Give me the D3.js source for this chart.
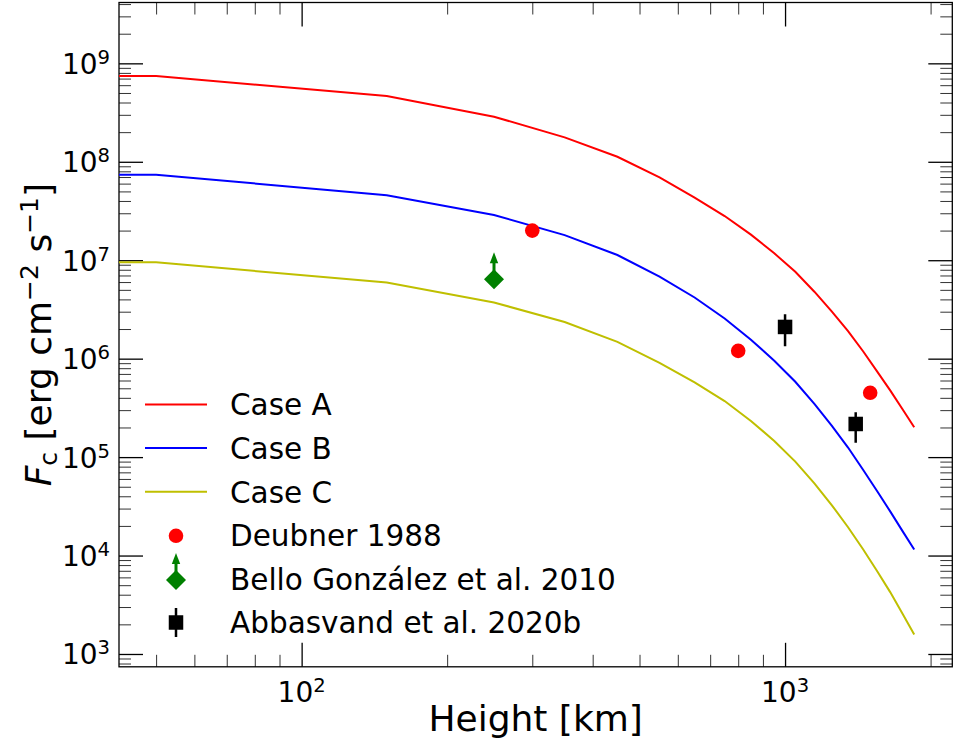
<!DOCTYPE html>
<html>
<head>
<meta charset="utf-8">
<script src="https://cdn.jsdelivr.net/npm/d3@7"></script>
<style>
  html, body { margin: 0; padding: 0; background: #fff; }
  svg { display: block; font-family: "DejaVu Sans", sans-serif; }
</style>
</head>
<body>
<svg id="chart" width="956" height="744"></svg>
<script>
// ---------------- data ----------------
const heights = [40, 50, 150, 250, 350, 450, 550, 650, 750, 850, 950, 1050, 1150, 1250, 1350, 1450, 1550, 1650, 1750, 1850];
const caseA = [7.43e8, 7.43e8, 4.66e8, 2.87e8, 1.77e8, 1.125e8, 6.95e7, 4.33e7, 2.81e7, 1.82e7, 1.175e7, 7.62e6, 4.79e6, 3.01e6, 1.90e6, 1.19e6, 7.44e5, 4.76e5, 3.06e5, 2.01e5];
const caseB = [7.39e7, 7.39e7, 4.58e7, 2.88e7, 1.80e7, 1.13e7, 6.8e6, 4.18e6, 2.56e6, 1.56e6, 9.54e5, 5.83e5, 3.47e5, 2.08e5, 1.25e5, 7.43e4, 4.52e4, 2.81e4, 1.77e4, 1.15e4];
const caseC = [9.52e6, 9.52e6, 5.94e6, 3.72e6, 2.36e6, 1.48e6, 9.08e5, 5.73e5, 3.71e5, 2.33e5, 1.46e5, 9.0e4, 5.41e4, 3.24e4, 1.94e4, 1.16e4, 6.97e3, 4.25e3, 2.57e3, 1.58e3];

const deubnerH = [300, 800, 1500];
const deubnerF = [2.0e7, 1.2e6, 4.5e5];
const belloH = [250];
const belloF = [6.4e6];
const abbasH = [1000, 1400];
const abbasF = [2.1e6, 2.17e5];
const abbasLo = [1.34e6, 1.4e5];
const abbasHi = [2.82e6, 2.85e5];

const caseNames = ["Case A", "Case B", "Case C"];
const caseColors = ["#ff0000", "#0000ff", "#bfbf00"];
const obsNames = ["Deubner 1988", "Bello González et al. 2010", "Abbasvand et al. 2020b"];

const xTickVals = [100, 1000];
const xTickExp = ["2", "3"];
const yTickVals = [1e3, 1e4, 1e5, 1e6, 1e7, 1e8, 1e9];
const yTickExp = ["3", "4", "5", "6", "7", "8", "9"];
const xDomain = [41.9, 2218];
const yDomain = [741, 4.15e9];

// ---------------- layout ----------------
const L = 119, R = 952.3, T = 2.5, B = 666.8;
const svg = d3.select("#chart");
const x = d3.scaleLog().domain(xDomain).range([L, R]);
const y = d3.scaleLog().domain(yDomain).range([B, T]);

svg.append("defs").append("clipPath").attr("id", "clip")
  .append("rect").attr("x", L).attr("y", T).attr("width", R - L).attr("height", B - T);

function minors(lo, hi) {
  const out = [];
  for (let e = Math.floor(Math.log10(lo)); e <= Math.ceil(Math.log10(hi)); e++) {
    for (let m = 2; m <= 9; m++) {
      const v = m * Math.pow(10, e);
      if (v >= lo && v <= hi) out.push(v);
    }
  }
  return out;
}
const xMinor = minors(xDomain[0], xDomain[1]);
const yMinor = minors(yDomain[0], yDomain[1]);

const MAJ = 24, MIN = 12;
function styleAxis(g) {
  g.select(".domain").remove();
  g.selectAll(".tick text").remove();
}
const axBottomMaj = d3.axisBottom(x).tickValues(xTickVals).tickSize(-MAJ).tickFormat("");
const axBottomMin = d3.axisBottom(x).tickValues(xMinor).tickSize(-MIN).tickFormat("");
const axTopMaj = d3.axisTop(x).tickValues(xTickVals).tickSize(-MAJ).tickFormat("");
const axTopMin = d3.axisTop(x).tickValues(xMinor).tickSize(-MIN).tickFormat("");
const axLeftMaj = d3.axisLeft(y).tickValues(yTickVals).tickSize(-MAJ).tickFormat("");
const axLeftMin = d3.axisLeft(y).tickValues(yMinor).tickSize(-MIN).tickFormat("");
const axRightMaj = d3.axisRight(y).tickValues(yTickVals).tickSize(-MAJ).tickFormat("");
const axRightMin = d3.axisRight(y).tickValues(yMinor).tickSize(-MIN).tickFormat("");

[[axBottomMaj, `translate(0,${B})`, 1.3, "#000"], [axBottomMin, `translate(0,${B})`, 1, "#333"],
 [axTopMaj, `translate(0,${T})`, 1.3, "#000"], [axTopMin, `translate(0,${T})`, 1, "#333"],
 [axLeftMaj, `translate(${L},0)`, 1.3, "#000"], [axLeftMin, `translate(${L},0)`, 1, "#333"],
 [axRightMaj, `translate(${R},0)`, 1.3, "#000"], [axRightMin, `translate(${R},0)`, 1, "#333"]]
 .forEach(([ax, tr, w, c]) => {
   const g = svg.append("g").attr("transform", tr).call(ax).call(styleAxis);
   g.selectAll(".tick line").attr("stroke", c).attr("stroke-width", w);
 });

svg.append("rect").attr("x", L).attr("y", T).attr("width", R - L).attr("height", B - T)
  .attr("fill", "none").attr("stroke", "#000").attr("stroke-width", 1.3);

// tick labels
const TF = 28;
xTickVals.forEach((v, i) => {
  const t = svg.append("text").attr("x", x(v)).attr("y", 702).attr("text-anchor", "middle")
    .attr("font-size", TF).attr("fill", "#000");
  t.append("tspan").text("10");
  t.append("tspan").attr("dy", -10).attr("font-size", TF * 0.7).text(xTickExp[i]);
});
yTickVals.forEach((v, i) => {
  const t = svg.append("text").attr("x", 110).attr("y", y(v) + 10.5).attr("text-anchor", "end")
    .attr("font-size", TF).attr("fill", "#000");
  t.append("tspan").text("10");
  t.append("tspan").attr("dy", -10).attr("font-size", TF * 0.7).text(yTickExp[i]);
});

// axis titles
svg.append("text").attr("x", (L + R) / 2).attr("y", 731).attr("text-anchor", "middle")
  .attr("font-size", 36).text("Height [km]");

const yl = svg.append("text").attr("transform", `translate(51,${(T + B) / 2}) rotate(-90)`)
  .attr("text-anchor", "middle").attr("font-size", 36);
yl.append("tspan").attr("font-style", "italic").text("F");
yl.append("tspan").attr("font-size", 25).attr("dy", 6).text("c");
yl.append("tspan").attr("dy", -6).text(" [erg cm");
yl.append("tspan").attr("font-size", 25).attr("dy", -13).text("\u22122");
yl.append("tspan").attr("dy", 13).text(" s");
yl.append("tspan").attr("font-size", 25).attr("dy", -13).text("\u22121");
yl.append("tspan").attr("dy", 13).text("]");

// ---------------- curves ----------------
const plot = svg.append("g").attr("clip-path", "url(#clip)");
const line = d3.line().x(d => x(d[0])).y(d => y(d[1]));
[caseA, caseB, caseC].forEach((arr, i) => {
  plot.append("path").datum(heights.map((h, j) => [h, arr[j]]))
    .attr("d", line).attr("fill", "none").attr("stroke", caseColors[i]).attr("stroke-width", 2);
});

// ---------------- observations ----------------
const CR = 7.3, SQ = 14.5, DI = 10;
function drawCircle(g, cx, cy) {
  g.append("circle").attr("cx", cx).attr("cy", cy).attr("r", CR).attr("fill", "#ff0000");
}
function drawBello(g, cx, cy) {
  g.append("line").attr("x1", cx).attr("x2", cx).attr("y1", cy).attr("y2", cy - 17)
    .attr("stroke", "#008000").attr("stroke-width", 3);
  g.append("path").attr("d", `M${cx - 4.2},${cy - 16} L${cx + 4.2},${cy - 16} L${cx},${cy - 27} Z`)
    .attr("fill", "#008000");
  g.append("path").attr("d", `M${cx},${cy - DI} L${cx + DI},${cy} L${cx},${cy + DI} L${cx - DI},${cy} Z`)
    .attr("fill", "#008000");
}
function drawSquare(g, cx, cy, ylo, yhi) {
  g.append("line").attr("x1", cx).attr("x2", cx).attr("y1", ylo).attr("y2", yhi)
    .attr("stroke", "#000").attr("stroke-width", 2.5);
  g.append("rect").attr("x", cx - SQ / 2).attr("y", cy - SQ / 2).attr("width", SQ).attr("height", SQ)
    .attr("fill", "#000");
}
deubnerH.forEach((h, i) => drawCircle(plot, x(h), y(deubnerF[i])));
belloH.forEach((h, i) => drawBello(plot, x(h), y(belloF[i])));
abbasH.forEach((h, i) => drawSquare(plot, x(h), y(abbasF[i]), y(abbasLo[i]), y(abbasHi[i])));

// ---------------- legend ----------------
const legY0 = 404.5, legDY = 43.6, LF = 29.5;
const leg = svg.append("g");
caseNames.forEach((n, i) => {
  const yy = legY0 + i * legDY;
  leg.append("line").attr("x1", 145).attr("x2", 207).attr("y1", yy).attr("y2", yy)
    .attr("stroke", caseColors[i]).attr("stroke-width", 2);
});
const my = i => legY0 + (3 + i) * legDY;
drawCircle(leg, 176, my(0) + 0.5);
drawBello(leg, 176, my(1) + 1);
drawSquare(leg, 176, my(2), my(2) - 14.5, my(2) + 14.5);
caseNames.concat(obsNames).forEach((n, i) => {
  leg.append("text").attr("x", 230).attr("y", legY0 + i * legDY + 10.8)
    .attr("font-size", LF).attr("fill", "#000").text(n);
});
</script>
</body>
</html>
